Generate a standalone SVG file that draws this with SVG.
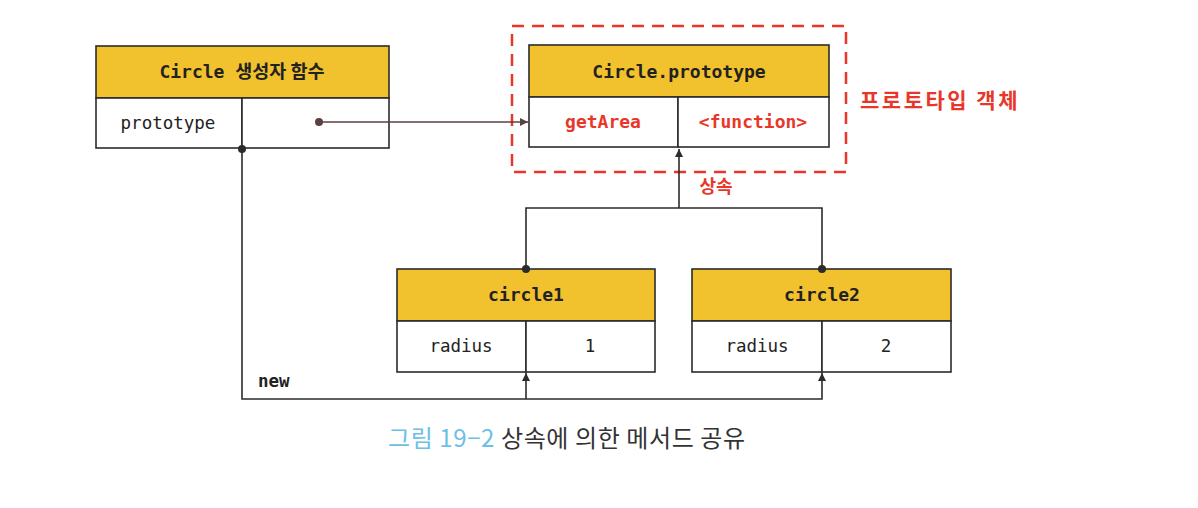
<svg xmlns="http://www.w3.org/2000/svg" width="1198" height="508" viewBox="0 0 1198 508">
<defs>
<style>
.hdr{fill:#f2c12e;stroke:#2b2b2b;stroke-width:1.6}
.cell{fill:#ffffff;stroke:#2b2b2b;stroke-width:1.6}
.mono{font-family:"DejaVu Sans Mono","Liberation Mono","Noto Sans CJK KR",monospace;font-size:17.5px;fill:#222}
.hd{font-size:18px;font-weight:bold}
.b{font-weight:bold}
.red{fill:#e8372a}
.conn{fill:none;stroke:#2b2b2b;stroke-width:1.6}
.ko{font-family:"Noto Sans CJK KR","Noto Sans",sans-serif}
</style>
<marker id="arr" viewBox="0 0 10 10" refX="10" refY="5" markerWidth="8" markerHeight="8" orient="auto" markerUnits="userSpaceOnUse">
<path d="M0,0 L10,5 L0,10 z" fill="#2b2b2b"/>
</marker>
<marker id="arrb" viewBox="0 0 10 10" refX="10" refY="5" markerWidth="8" markerHeight="8" orient="auto" markerUnits="userSpaceOnUse">
<path d="M0,0 L10,5 L0,10 z" fill="#5a4040"/>
</marker>
</defs>
<rect width="1198" height="508" fill="#ffffff"/>

<g id="constructor">
<rect class="hdr" x="96" y="46" width="293" height="52"/>
<rect class="cell" x="96" y="98" width="146" height="50"/>
<rect class="cell" x="242" y="98" width="147" height="50"/>
<text class="mono hd" x="242" y="78" text-anchor="middle">Circle <tspan class="ko" font-size="18.5">생성자 함수</tspan></text>
<text class="mono" x="168" y="129" text-anchor="middle">prototype</text>
</g>

<g id="prototype-object">
<rect x="512" y="26" width="334" height="146" fill="none" stroke="#e8372a" stroke-width="2.5" stroke-dasharray="12,8"/>
<rect class="hdr" x="529" y="45" width="300" height="52"/>
<rect class="cell" x="529" y="97" width="149" height="50"/>
<rect class="cell" x="678" y="97" width="151" height="50"/>
<text class="mono hd" x="679" y="78" text-anchor="middle">Circle.prototype</text>
<text class="mono hd red" x="603" y="128" text-anchor="middle">getArea</text>
<text class="mono hd red" x="753" y="128" text-anchor="middle">&lt;function&gt;</text>
<text class="ko red" x="860" y="108" font-size="21" font-weight="bold" letter-spacing="2.5">프로토타입 객체</text>
</g>

<g id="circle1">
<rect class="hdr" x="397" y="269" width="258" height="52"/>
<rect class="cell" x="397" y="321" width="129" height="51"/>
<rect class="cell" x="526" y="321" width="129" height="51"/>
<text class="mono hd" x="526" y="301" text-anchor="middle">circle1</text>
<text class="mono" x="461" y="352" text-anchor="middle">radius</text>
<text class="mono" x="590" y="352" text-anchor="middle">1</text>
</g>

<g id="circle2">
<rect class="hdr" x="692" y="269" width="259" height="52"/>
<rect class="cell" x="692" y="321" width="130" height="51"/>
<rect class="cell" x="822" y="321" width="129" height="51"/>
<text class="mono hd" x="822" y="301" text-anchor="middle">circle2</text>
<text class="mono" x="757" y="352" text-anchor="middle">radius</text>
<text class="mono" x="886" y="352" text-anchor="middle">2</text>
</g>

<g id="connectors">
<line x1="319" y1="122" x2="528" y2="122" stroke="#5a4040" stroke-width="1.5" marker-end="url(#arrb)"/>
<circle cx="319" cy="122" r="4" fill="#5a4040"/>
<path class="conn" d="M679,208 L679,149" marker-end="url(#arr)"/>
<path class="conn" d="M526,269 L526,208 L822,208 L822,269"/>
<circle cx="526" cy="269" r="4" fill="#2b2b2b"/>
<circle cx="822" cy="269" r="4" fill="#2b2b2b"/>
<path class="conn" d="M242,150 L242,399 L822,399 L822,373" marker-end="url(#arr)"/>
<path class="conn" d="M526,399 L526,373" marker-end="url(#arr)"/>
<circle cx="242" cy="149" r="4" fill="#2b2b2b"/>
<text class="ko red" x="716" y="193" font-size="18" font-weight="bold" text-anchor="middle">상속</text>
<text class="mono b" x="258" y="387" font-size="17">new</text>
</g>

<g id="caption">
<text class="ko" x="388" y="447" font-size="24" letter-spacing="0.6"><tspan fill="#6cc0e5">그림 19−2</tspan><tspan fill="#333333"> 상속에 의한 메서드 공유</tspan></text>
</g>
</svg>
